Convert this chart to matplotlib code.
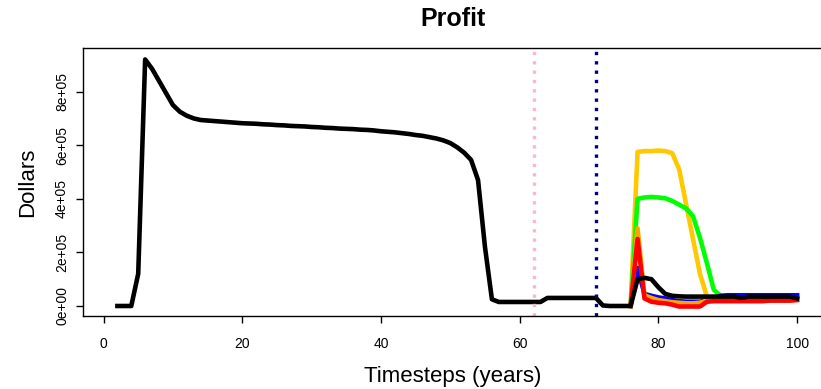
import matplotlib
matplotlib.use("Agg")
import matplotlib.pyplot as plt
import numpy as np

plt.rcParams['font.family'] = ['Liberation Sans', 'DejaVu Sans']

# baseline run (black), values in 1e5 dollars, timesteps 2..100
base_x = list(range(2, 101))
base_y = [0, 0, 0, 1.2, 9.2, 8.85, 8.4, 7.95, 7.5, 7.25, 7.1, 7.0, 6.94, 6.92,
          6.9, 6.88, 6.86, 6.84, 6.82, 6.81, 6.8, 6.78, 6.77, 6.75, 6.74, 6.72,
          6.71, 6.7, 6.68, 6.67, 6.65, 6.64, 6.62, 6.61, 6.6, 6.58, 6.57, 6.55,
          6.52, 6.5, 6.48, 6.45, 6.42, 6.38, 6.35, 6.3, 6.25, 6.18, 6.08, 5.92,
          5.72, 5.45, 4.7, 2.2, 0.25, 0.15, 0.15, 0.15, 0.15, 0.15, 0.15, 0.15,
          0.3, 0.3, 0.3, 0.3, 0.3, 0.3, 0.3, 0.3, 0.02, 0, 0, 0, 0,
          1.0, 1.05, 1.0, 0.7, 0.45, 0.38, 0.36, 0.35, 0.35, 0.35, 0.35, 0.35,
          0.35, 0.35, 0.35, 0.3, 0.35, 0.35, 0.35, 0.35, 0.35, 0.35, 0.35, 0.28]

# scenario runs, timesteps 76..100
scen_x = list(range(76, 101))
yellow_y = [0, 5.75, 5.78, 5.78, 5.8, 5.78, 5.7, 5.1, 3.8, 2.5, 1.2, 0.35,
            0.3, 0.3, 0.3, 0.3, 0.3, 0.3, 0.3, 0.3, 0.3, 0.3, 0.3, 0.3, 0.3]
green_y = [0, 4.0, 4.05, 4.07, 4.05, 4.02, 3.92, 3.78, 3.64, 3.35, 2.55, 1.6,
           0.6, 0.38, 0.38, 0.38, 0.38, 0.38, 0.38, 0.38, 0.38, 0.38, 0.38, 0.38, 0.35]
blue_y = [0, 1.42, 0.45, 0.38, 0.32, 0.28, 0.22, 0.18, 0.16, 0.16, 0.16, 0.21,
          0.3, 0.38, 0.4, 0.4, 0.4, 0.4, 0.4, 0.4, 0.4, 0.4, 0.4, 0.4, 0.4]
orange_y = [0, 2.9, 0.4, 0.3, 0.22, 0.18, 0.14, 0.12, 0.1, 0.1, 0.12, 0.2,
            0.25, 0.25, 0.25, 0.25, 0.25, 0.25, 0.25, 0.25, 0.25, 0.25, 0.25, 0.25, 0.25]
red_y = [0, 2.5, 0.28, 0.16, 0.12, 0.1, 0.05, -0.02, -0.02, -0.02, -0.02, 0.16,
         0.18, 0.18, 0.18, 0.18, 0.18, 0.18, 0.18, 0.18, 0.2, 0.2, 0.2, 0.2, 0.22]

scenarios = [
    (yellow_y, '#FFC800'),
    (green_y, '#00FF00'),
    (blue_y, '#0000FF'),
    (orange_y, '#FFA500'),
    (red_y, '#FF0000'),
]

events = [(62, '#FFB6C8'), (71, 'navy')]

fig = plt.figure(figsize=(8.21, 3.89), dpi=100)
ax = fig.add_axes([0.1011, 0.1877, 0.9032, 0.6889])

for vals, col in scenarios:
    ax.plot(scen_x, np.array(vals) * 1e5, color=col, lw=3.3, solid_joinstyle='round')
ax.plot(base_x, np.array(base_y) * 1e5, color='black', lw=3.3, solid_joinstyle='round')

for xv, col in events:
    ax.axvline(xv, color=col, lw=2.4, linestyle=(0, (1, 1.8)))

ax.set_xlim(-2.96, 103.96)
ax.set_ylim(-0.373e5, 9.627e5)

ax.set_xticks([0, 20, 40, 60, 80, 100])
ax.set_xticklabels(['0', '20', '40', '60', '80', '100'], fontsize=10)
yt = [0, 2e5, 4e5, 6e5, 8e5]
ax.set_yticks(yt)
ax.set_yticklabels(['0e+00', '2e+05', '4e+05', '6e+05', '8e+05'], fontsize=10,
                   rotation=90, va='center')
ax.tick_params(axis='x', length=5, width=1, pad=10)
ax.tick_params(axis='y', length=5, width=1, pad=5)
ax.spines['right'].set_visible(False)
for s in ['left', 'top', 'bottom']:
    ax.spines[s].set_linewidth(1)

fig.text(0.5517, 0.951, 'Profit', fontsize=18, fontweight='bold', ha='center', va='center')
fig.text(0.5517, 0.033, 'Timesteps (years)', fontsize=16, ha='center', va='center')
fig.text(0.034, 0.532, 'Dollars', fontsize=16, ha='center', va='center', rotation=90)

fig.savefig('out.png', dpi=100)
